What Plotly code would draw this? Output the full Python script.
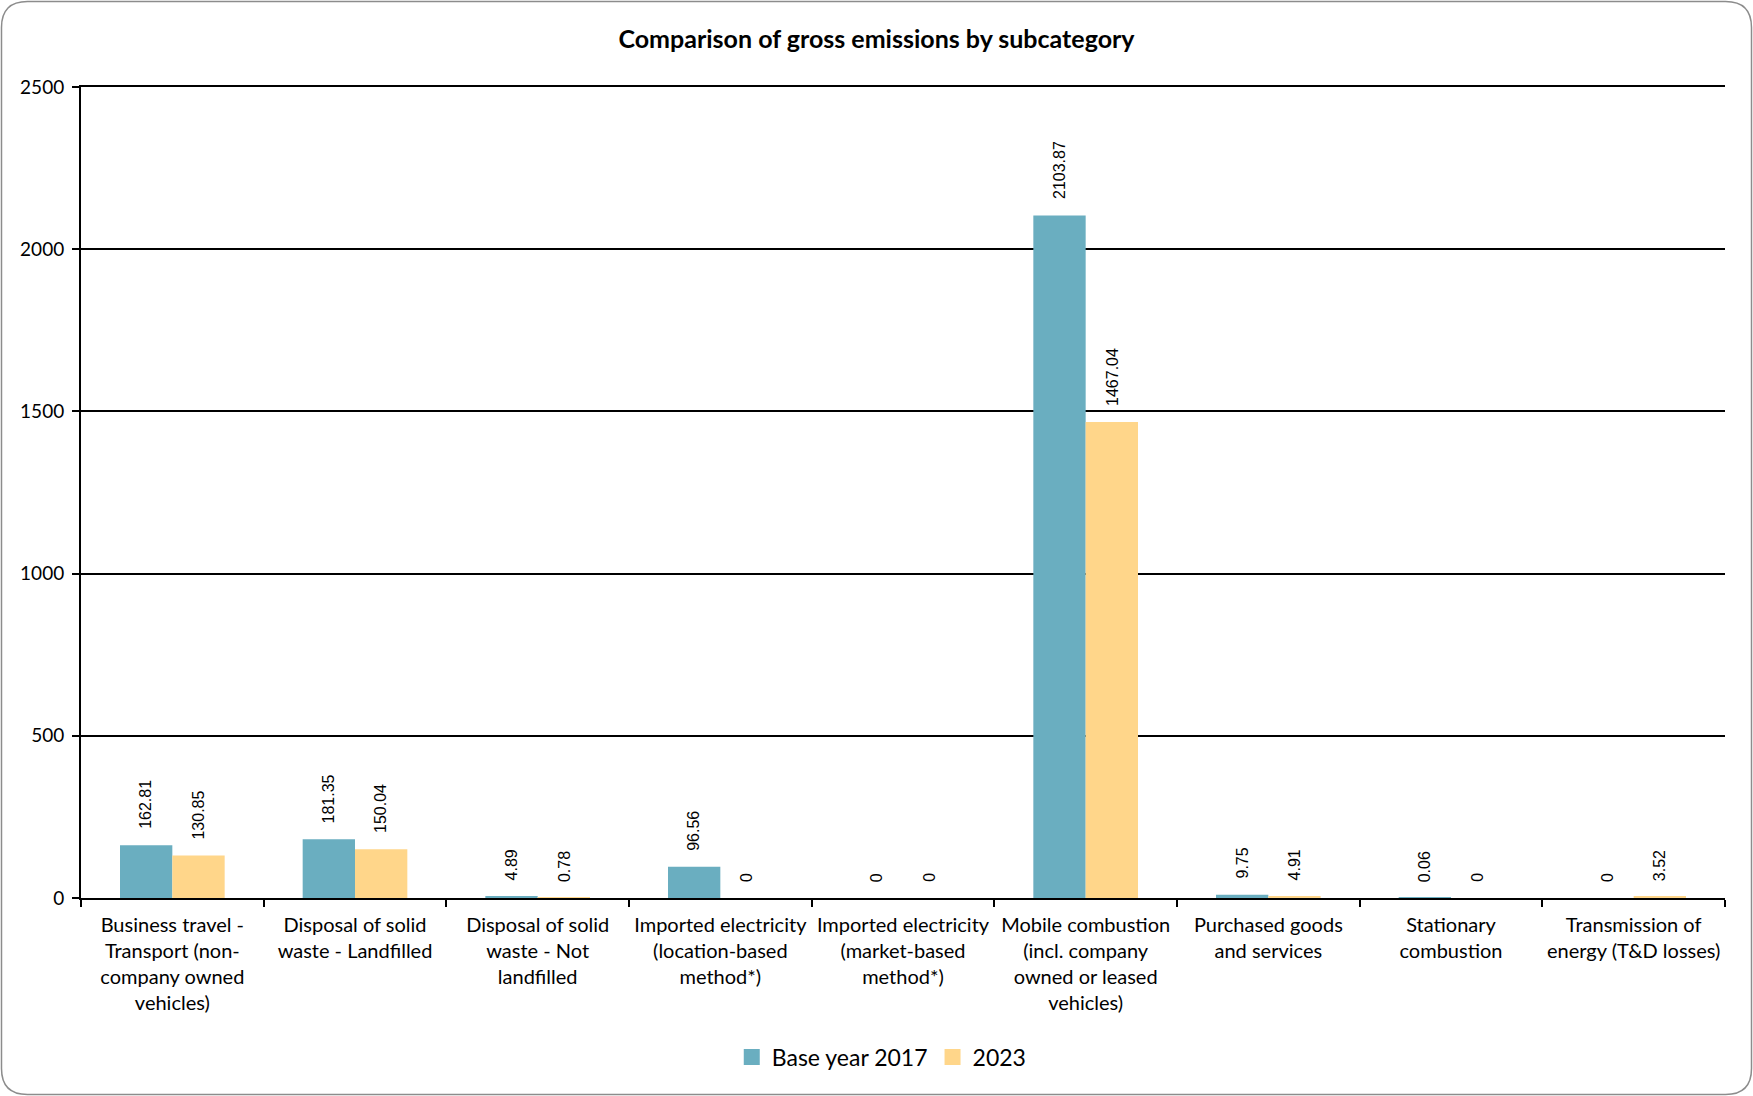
import plotly.graph_objects as go

# Emission subcategories and totals for each reporting year
categories = [
    "Business travel -<br>Transport (non-<br>company owned<br>vehicles)",
    "Disposal of solid<br>waste - Landfilled",
    "Disposal of solid<br>waste - Not<br>landfilled",
    "Imported electricity<br>(location-based<br>method*)",
    "Imported electricity<br>(market-based<br>method*)",
    "Mobile combustion<br>(incl. company<br>owned or leased<br>vehicles)",
    "Purchased goods<br>and services",
    "Stationary<br>combustion",
    "Transmission of<br>energy (T&D losses)",
]
base_2017 = [162.81, 181.35, 4.89, 96.56, 0, 2103.87, 9.75, 0.06, 0]
year_2023 = [130.85, 150.04, 0.78, 0, 0, 1467.04, 4.91, 0, 3.52]
series_names = ["Base year 2017", "2023"]
y_ticks = [0, 500, 1000, 1500, 2000, 2500]

TEAL = "#6aaec0"
GOLD = "#ffd68a"
FONT = "Lato"

W, H = 1753, 1096
L, R, T, B = 81, 28, 87, 198
plot_w = W - L - R
plot_h = H - T - B

fig = go.Figure()
for name, vals, col in [(series_names[0], base_2017, TEAL), (series_names[1], year_2023, GOLD)]:
    fig.add_trace(go.Bar(x=categories, y=vals, name=name, showlegend=False,
                         marker=dict(color=col, line=dict(width=0))))

# legend entries with larger square swatches
for name, col in [(series_names[0], TEAL), (series_names[1], GOLD)]:
    fig.add_trace(go.Scatter(x=[None], y=[None], name=name, mode="markers",
                             marker=dict(symbol="square", size=17, color=col)))

# rotated value labels above each bar
bargap = 0.427
cat_px = plot_w / len(categories)
half_bar = cat_px * (1 - bargap) / 4
for vals, sign in [(base_2017, -1), (year_2023, 1)]:
    for c, v in zip(categories, vals):
        fig.add_annotation(
            x=c, y=v, xref="x", yref="y", text=f"{v:g}", textangle=-90,
            showarrow=False, xanchor="center", yanchor="bottom",
            xshift=sign * half_bar, yshift=14,
            font=dict(family="Liberation Sans", size=16, color="#000"),
        )


def px_to_paper(x, y):
    return (x - L) / plot_w, (H - B - y) / plot_h


# rounded chart frame
x0, y0, x1, y1, r = 1.5, 1.5, W - 1.5, H - 1.5, 26
pts = [
    ("M", [(x0 + r, y0)]),
    ("L", [(x1 - r, y0)]),
    ("Q", [(x1, y0), (x1, y0 + r)]),
    ("L", [(x1, y1 - r)]),
    ("Q", [(x1, y1), (x1 - r, y1)]),
    ("L", [(x0 + r, y1)]),
    ("Q", [(x0, y1), (x0, y1 - r)]),
    ("L", [(x0, y0 + r)]),
    ("Q", [(x0, y0), (x0 + r, y0)]),
]
path = ""
for cmd, ps in pts:
    path += cmd + " " + " ".join(f"{px_to_paper(*p)[0]:.5f},{px_to_paper(*p)[1]:.5f}" for p in ps) + " "
path += "Z"
fig.add_shape(type="path", path=path, xref="paper", yref="paper",
              line=dict(color="#8c8c8c", width=1.5), fillcolor="rgba(0,0,0,0)", layer="above")

fig.update_layout(
    width=W, height=H,
    margin=dict(l=L, r=R, t=T, b=B, autoexpand=False),
    paper_bgcolor="white", plot_bgcolor="white",
    barmode="group", bargap=bargap, bargroupgap=0,
    font=dict(family=FONT, size=20, color="#000"),
    title=dict(text="<b>Comparison of gross emissions by subcategory</b>",
               x=0.5, xref="container", xanchor="center",
               y=1 - 39 / H, yref="container", yanchor="middle",
               font=dict(family=FONT, size=25, color="#000")),
    legend=dict(orientation="h", x=0.503, xref="container", xanchor="center",
                y=1 - 1057 / H, yref="container", yanchor="middle",
                font=dict(family=FONT, size=23, color="#000"),
                itemsizing="trace", traceorder="normal"),
    showlegend=True,
)
fig.update_xaxes(
    type="category", showline=True, linecolor="#000", linewidth=2, mirror=True,
    ticks="outside", tickson="boundaries", ticklen=7, tickwidth=2, tickcolor="#000",
    showgrid=False, tickfont=dict(family=FONT, size=20, color="#000"),
    tickangle=0, ticklabelstandoff=8, automargin=False,
)
fig.update_yaxes(
    range=[0, 2500], tickvals=y_ticks, showline=True, linecolor="#000", linewidth=2,
    ticks="outside", ticklen=7, tickwidth=2, tickcolor="#000",
    showgrid=True, gridcolor="#000", gridwidth=2, zeroline=False,
    tickfont=dict(family=FONT, size=19, color="#000"), ticklabelstandoff=4,
    automargin=False,
)

fig.write_html("out.html")
